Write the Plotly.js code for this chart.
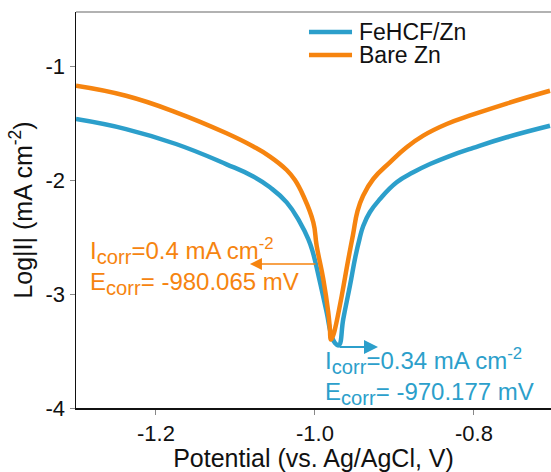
<!DOCTYPE html>
<html>
<head>
<meta charset="utf-8">
<script src="https://cdn.plot.ly/plotly-3.0.1.min.js"></script>
<style>
  html, body { margin: 0; padding: 0; background: #fff; }
  #chart { width: 551px; height: 472px; }
</style>
</head>
<body>
<div id="chart"></div>
<script>
// Tafel polarisation curves, log|I| against potential
const seriesNames = ['FeHCF/Zn', 'Bare Zn'];

const feHcfPotential = [
  -1.3006, -1.2377, -1.1748, -1.1119, -1.0776, -1.0566, -1.0356, -1.0189,
  -1.0084, -1.0031, -0.9946, -0.9853, -0.9792, -0.9748, -0.970177,
  -0.9644, -0.9560, -0.9491, -0.9440, -0.9392, -0.9308, -0.9182, -0.8972,
  -0.8764, -0.8553, -0.8323, -0.8009, -0.7589, -0.7044
];
const feHcfLogI = [
  -1.465, -1.553, -1.684, -1.860, -1.969, -2.064, -2.196, -2.371,
  -2.518, -2.623, -2.868, -3.161, -3.366, -3.430, -3.450,
  -3.219, -2.927, -2.671, -2.518, -2.401, -2.281, -2.167, -2.020,
  -1.932, -1.860, -1.794, -1.718, -1.625, -1.524
];

const bareZnPotential = [
  -1.3006, -1.2377, -1.1748, -1.1119, -1.0776, -1.0566, -1.0356, -1.0252,
  -1.0147, -1.0021, -0.9979, -0.9896, -0.9833, -0.9812, -0.980065,
  -0.9770, -0.9748, -0.9664, -0.9585, -0.9522, -0.9465, -0.9396, -0.9267,
  -0.9057, -0.8847, -0.8638, -0.8343, -0.8009, -0.7589, -0.7044
];
const bareZnLogI = [
  -1.173, -1.261, -1.406, -1.588, -1.706, -1.794, -1.912, -2.000,
  -2.138, -2.371, -2.576, -2.868, -3.161, -3.310, -3.400,
  -3.360, -3.307, -3.018, -2.711, -2.482, -2.272, -2.140, -1.991,
  -1.845, -1.713, -1.611, -1.509, -1.425, -1.329, -1.217
];

// corrosion parameters from the Tafel fits
const feHcfIcorr = '0.34', feHcfEcorr = '-970.177';
const bareIcorr = '0.4', bareEcorr = '-980.065';

const xTickVals = [-1.2, -1.0, -0.8];
const xTickText = ['-1.2', '-1.0', '-0.8'];
const yTickVals = [-4, -3, -2, -1];
const yTickText = ['-4', '-3', '-2', '-1'];

const BLUE = '#2C9FCB';
const ORANGE = '#F6840F';
const FONT = 'Liberation Sans, Arial, sans-serif';

const traces = [
  { x: feHcfPotential, y: feHcfLogI, name: seriesNames[0], mode: 'lines',
    line: { color: BLUE, width: 4.5, shape: 'spline', smoothing: 1.3 } },
  { x: bareZnPotential, y: bareZnLogI, name: seriesNames[1], mode: 'lines',
    line: { color: ORANGE, width: 4.5, shape: 'spline', smoothing: 1.3 } }
];

// hand-placed legend: sample line + label per series
const legendY = [0.9495, 0.8914];
const legendColors = [BLUE, ORANGE];
const shapes = [
  { type: 'line', xref: 'paper', yref: 'paper', x0: 0, x1: 1, y0: 1, y1: 1,
    line: { color: '#999', width: 1.5 } }
];
const annotations = [];
seriesNames.forEach((name, i) => {
  shapes.push({ type: 'line', xref: 'paper', yref: 'paper',
    x0: 0.4905, x1: 0.5811, y0: legendY[i], y1: legendY[i],
    line: { color: legendColors[i], width: 4.5 } });
  annotations.push({ xref: 'paper', yref: 'paper', x: 0.5937, y: legendY[i],
    xanchor: 'left', yanchor: 'middle', showarrow: false, text: name,
    borderpad: 0, font: { family: FONT, size: 23, color: '#111' } });
});

// Ecorr/Icorr call-outs with arrows
const subCorr = '<sub><span style="font-size:120%">corr</span></sub>';
annotations.push(
  { x: -1.0818, y: -2.737, ax: -0.9975, ay: -2.737, axref: 'x', ayref: 'y',
    xref: 'x', yref: 'y', text: '', showarrow: true, arrowhead: 2,
    arrowsize: 1.6, arrowwidth: 1.5, arrowcolor: ORANGE, standoff: 0 },
  { x: -1.2855, y: -2.763, xref: 'x', yref: 'y', xanchor: 'left', yanchor: 'middle',
    align: 'left', showarrow: false,
    text: 'I' + subCorr + '=' + bareIcorr + ' mA cm<sup>-2</sup><br>E' + subCorr + '= ' + bareEcorr + ' mV',
    font: { family: FONT, size: 24, color: ORANGE } },
  { x: -0.9207, y: -3.465, ax: -0.971, ay: -3.465, axref: 'x', ayref: 'y',
    xref: 'x', yref: 'y', text: '', showarrow: true, arrowhead: 2,
    arrowsize: 1.4, arrowwidth: 2, arrowcolor: BLUE, standoff: 0 },
  { x: -0.990, y: -3.728, xref: 'x', yref: 'y', xanchor: 'left', yanchor: 'middle',
    align: 'left', showarrow: false,
    text: 'I' + subCorr + '=' + feHcfIcorr + ' mA cm<sup>-2</sup><br>E' + subCorr + '= ' + feHcfEcorr + ' mV',
    font: { family: FONT, size: 24, color: BLUE } }
);

const layout = {
  width: 551, height: 472,
  margin: { l: 76, r: 0, t: 12, b: 64 },
  paper_bgcolor: '#fff', plot_bgcolor: '#fff',
  showlegend: false,
  font: { family: FONT, color: '#111' },
  xaxis: {
    range: [-1.3006, -0.7031], showgrid: false, zeroline: false,
    showline: true, linecolor: '#111', linewidth: 1.5,
    ticks: 'outside', ticklen: 5, tickwidth: 1, tickcolor: '#888',
    tickvals: xTickVals, ticktext: xTickText,
    tickfont: { family: FONT, size: 22, color: '#111' },
    title: { text: 'Potential (vs. Ag/AgCl, V)', standoff: 6,
             font: { family: FONT, size: 25, color: '#111' } }
  },
  yaxis: {
    range: [-4, -0.526], showgrid: false, zeroline: false,
    showline: true, linecolor: '#111', linewidth: 1.5,
    ticks: 'outside', ticklen: 5, tickwidth: 1, tickcolor: '#888',
    tickvals: yTickVals, ticktext: yTickText,
    tickfont: { family: FONT, size: 22, color: '#111' },
    title: { text: 'Log|I| (mA cm<sup>-2</sup>)', standoff: 6,
             font: { family: FONT, size: 25, color: '#111' } }
  },
  shapes: shapes,
  annotations: annotations
};

Plotly.newPlot('chart', traces, layout, { displayModeBar: false, staticPlot: true });
</script>
</body>
</html>
